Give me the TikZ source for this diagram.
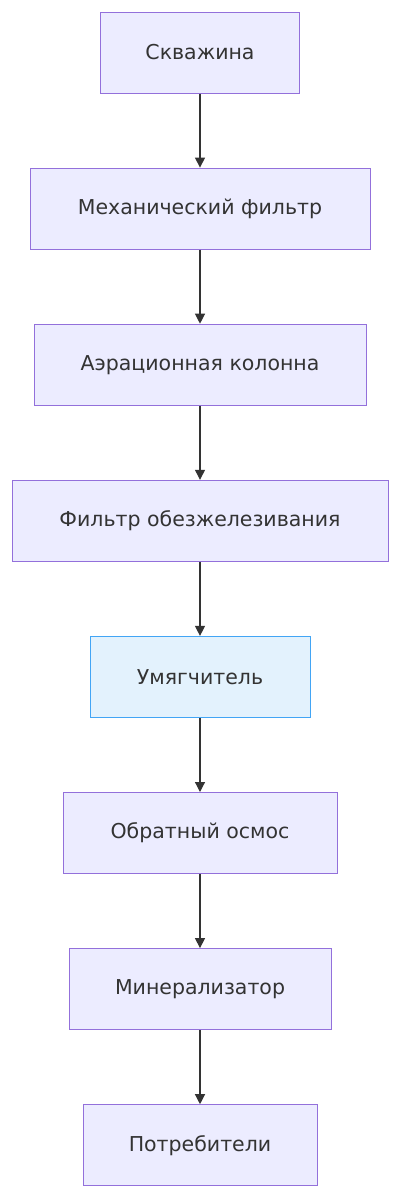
\documentclass[tikz,border=0pt]{standalone}
\usepackage{fontspec}
\setmainfont{DejaVu Sans}
\usetikzlibrary{positioning,arrows.meta}
\definecolor{boxfill}{HTML}{ECECFF}
\definecolor{boxline}{HTML}{9370DB}
\definecolor{softfill}{HTML}{E3F2FD}
\definecolor{softline}{HTML}{42A5F5}
\definecolor{ink}{HTML}{333333}
\tikzset{
    stage/.style={draw=boxline, fill=boxfill, line width=1pt, minimum height=81pt, text=ink, font=\fontsize{20.5}{24}\selectfont},
    softstage/.style={stage, draw=softline, fill=softfill},
    flow/.style={draw=ink, line width=1.2pt, -{Triangle[length=10pt,width=10pt]}}
}
\begin{document}
\begin{tikzpicture}[x=1pt, y=-1pt, node distance=74.1pt]
\useasboundingbox (0,0) rectangle (400,1200);
\node[stage, minimum width=199pt] (well) at (200,52.5) {Скважина};
\node[stage, minimum width=340pt, below=of well] (mech) {Механический фильтр};
\node[stage, minimum width=332pt, below=of mech] (aer) {Аэрационная колонна};
\node[stage, minimum width=376pt, below=of aer] (iron) {Фильтр обезжелезивания};
\node[softstage, minimum width=220pt, below=of iron] (soft) {Умягчитель};
\node[stage, minimum width=274pt, below=of soft] (ro) {Обратный осмос};
\node[stage, minimum width=262pt, below=of ro] (mineral) {Минерализатор};
\node[stage, minimum width=234pt, below=of mineral] (users) {Потребители};
\foreach \a/\b in {well/mech, mech/aer, aer/iron, iron/soft, soft/ro, ro/mineral, mineral/users}
    \draw[flow] (\a) -- (\b);
\end{tikzpicture}
\end{document}
